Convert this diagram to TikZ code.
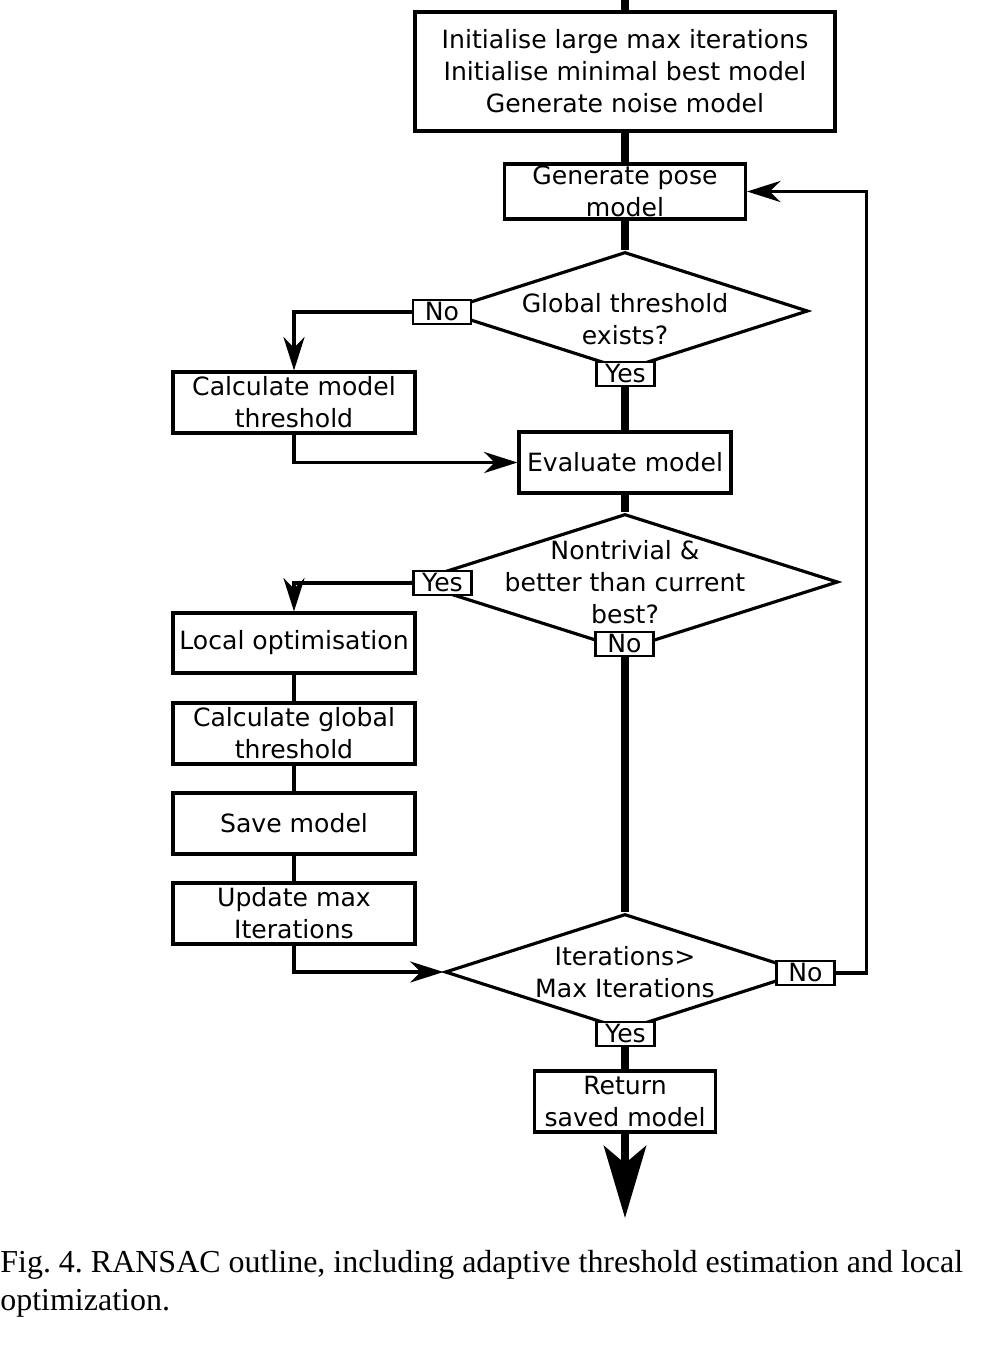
\documentclass[tikz,border=0pt]{standalone}
\usepackage{fontspec}
\setmainfont{DejaVu Sans}
\newfontfamily\capfont{Liberation Serif}
\usetikzlibrary{arrows.meta,shapes.geometric}
\tikzset{
  stepbox/.style={draw=black,line width=1.8pt,align=center,inner sep=0pt,
                  font=\fontsize{14.3pt}{18.2pt}\selectfont},
  decision/.style={diamond,draw=black,line width=1.8pt,inner sep=0pt},
  dectext/.style={align=center,inner sep=0pt,font=\fontsize{14.3pt}{18.2pt}\selectfont},
  answer/.style={draw=black,fill=white,line width=1.2pt,inner sep=0pt,
                 minimum width=1.16cm,minimum height=0.48cm,
                 font=\fontsize{14.3pt}{18.2pt}\selectfont},
  spine/.style={line width=4.5pt,draw=black},
  flow/.style={line width=1.9pt,draw=black},
  flowarr/.style={flow,-{Stealth[length=19pt,width=12pt,inset=6pt]}},
  bigarr/.style={spine,-{Stealth[length=41pt,width=24pt,inset=10pt]}},
  caption/.style={align=left,inner sep=0pt,
                  font=\capfont\fontsize{18.2pt}{21.6pt}\selectfont\frenchspacing}
}
\begin{document}
\begin{tikzpicture}[x=0.02cm,y=-0.02cm]
  \useasboundingbox (0,0) rectangle (997,1363);
  \fill[white] (0,0) rectangle (997,1363);
  % main column
  \coordinate (top) at (625,0);
  \node[stepbox,minimum width=8.4cm,minimum height=2.38cm] (init) at (625,71.5)
    {Initialise large max iterations\\Initialise minimal best model\\Generate noise model};
  \node[stepbox,minimum width=4.82cm,minimum height=1.1cm] (pose) at (625,191.5)
    {Generate pose\\model};
  \node[decision,minimum width=7.32cm,minimum height=2.36cm,
        label={[dectext,yshift=-0.16cm]center:Global threshold\\exists?}] (gdec) at (625,311) {};
  \node[stepbox,minimum width=4.84cm,minimum height=1.22cm] (calc) at (294,402.5)
    {Calculate model\\threshold};
  \node[stepbox,minimum width=4.24cm,minimum height=1.22cm] (eval) at (625,462.5)
    {Evaluate model};
  \node[decision,minimum width=8.52cm,minimum height=2.72cm,
        label={[dectext]center:Nontrivial \&\\better than current\\best?}] (ndec) at (625,582) {};
  % local optimisation chain
  \node[stepbox,minimum width=4.84cm,minimum height=1.2cm] (local) at (294,643)
    {Local optimisation};
  \node[stepbox,minimum width=4.84cm,minimum height=1.22cm] (cglob) at (294,733.5)
    {Calculate global\\threshold};
  \node[stepbox,minimum width=4.84cm,minimum height=1.22cm] (save) at (294,823.5)
    {Save model};
  \node[stepbox,minimum width=4.84cm,minimum height=1.22cm] (upd) at (294,913.5)
    {Update max\\Iterations};
  \node[decision,minimum width=7.2cm,minimum height=2.32cm,
        label={[dectext]center:Iterations>\\Max Iterations}] (idec) at (625,972) {};
  \node[stepbox,minimum width=3.62cm,minimum height=1.22cm] (ret) at (625,1101.5)
    {Return\\saved model};
  \coordinate (out) at (625,1218);

  % connectors
  \draw[spine] (top) -- (init);
  \draw[spine] (init) -- (pose);
  \draw[spine] (pose) -- (gdec);
  \draw[spine] (gdec.south) -- (eval);
  \draw[spine] (eval) -- (ndec);
  \draw[spine] (ndec.south) -- (idec);
  \draw[spine] (idec.south) -- (ret);
  \draw[bigarr] (ret) -- (out);

  % yes / no answers
  \node[answer] (gno) at (442,312) {No};
  \node[answer] (gyes) at (625.5,374) {Yes};
  \node[answer] (nyes) at (442.5,583) {Yes};
  \node[answer] (nno) at (624.5,644) {No};
  \node[answer] (ino) at (805.5,973) {No};
  \node[answer] (iyes) at (625.5,1034) {Yes};

  \draw[flowarr] (gno.west) -| (calc.north);
  \draw[flowarr] (calc.south) |- (eval.west);
  \draw[flowarr] (nyes.west) -| (local.north);
  \draw[flow] (local) -- (cglob);
  \draw[flow] (cglob) -- (save);
  \draw[flow] (save) -- (upd);
  \draw[flowarr] (upd.south) |- (idec.west);
  \draw[flowarr] (ino.east) -- ++(31,0) |- (pose.east);

  \node[caption,anchor=north west] (cap) at (0,1250)
    {Fig. 4. RANSAC outline, including adaptive threshold estimation and local\\optimization.};
\end{tikzpicture}
\end{document}
